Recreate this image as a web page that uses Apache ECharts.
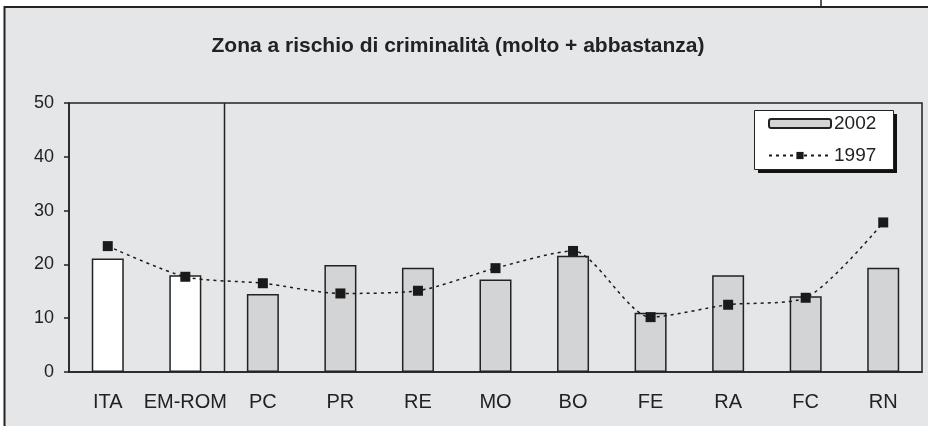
<!DOCTYPE html>
<html>
<head>
<meta charset="utf-8">
<script src="https://cdn.jsdelivr.net/npm/echarts@6/dist/echarts.min.js"></script>
<style>
  html, body { margin: 0; padding: 0; background: #fff; }
  #chart { width: 928px; height: 426px; }
</style>
</head>
<body>
<div id="chart"></div>
<script>
var categories = ['ITA', 'EM-ROM', 'PC', 'PR', 'RE', 'MO', 'BO', 'FE', 'RA', 'FC', 'RN'];
var values2002 = [21.1, 18.0, 14.5, 19.9, 19.4, 17.2, 21.6, 11.0, 18.0, 14.1, 19.4];
var values1997 = [23.4, 17.7, 16.5, 14.6, 15.1, 19.3, 22.5, 10.2, 12.5, 13.8, 27.8];
var yTicks = [0, 10, 20, 30, 40, 50];

var ink = '#222';
var bg = '#e5e6e8';
var font = 'Liberation Sans, Arial, sans-serif';

// first two bars (Italy, region) are drawn white
var barData = values2002.map(function (v, i) {
    return {
        value: v,
        itemStyle: { color: i < 2 ? '#ffffff' : '#d3d4d6' }
    };
});

var myChart = echarts.init(document.getElementById('chart'));

var option = {
    backgroundColor: '#ffffff',
    animation: false,
    textStyle: { fontFamily: font, color: ink },
    graphic: [{
        type: 'rect',
        z: -10,
        shape: { x: 4.5, y: 7, width: 940, height: 440 },
        style: { fill: bg, stroke: ink, lineWidth: 2 }
    }, {
        type: 'line',
        z: -10,
        shape: { x1: 821, y1: 0, x2: 821, y2: 7 },
        style: { stroke: ink, lineWidth: 1.5 }
    }, {
        // legend frame with hard shadow
        type: 'rect',
        z: 5,
        shape: { x: 758, y: 114, width: 139, height: 59 },
        style: { fill: '#111' }
    }, {
        type: 'rect',
        z: 6,
        shape: { x: 754.5, y: 110.5, width: 139, height: 59 },
        style: { fill: '#ffffff', stroke: ink, lineWidth: 1 }
    }],
    title: {
        text: 'Zona a rischio di criminalità (molto + abbastanza)',
        left: 453,
        top: 31,
        textAlign: 'center',
        textStyle: { fontFamily: font, fontSize: 21, fontWeight: 'bold', color: ink }
    },
    legend: {
        orient: 'vertical',
        left: 754,
        top: 110,
        z: 20,
        padding: [4, 12, 4, 14],
        itemGap: 13,
        itemWidth: 62,
        itemHeight: 9,
        textStyle: { fontFamily: font, fontSize: 19, color: ink, padding: [0, 0, 0, -2] },
        data: ['2002', '1997']
    },
    grid: {
        left: 69,
        right: 6,
        top: 103,
        bottom: 54,
        show: true,
        borderColor: ink,
        borderWidth: 1.5,
        backgroundColor: 'transparent'
    },
    xAxis: {
        type: 'category',
        data: categories,
        axisLine: { lineStyle: { color: ink, width: 1.5 } },
        axisTick: { show: false },
        axisLabel: { fontFamily: font, fontSize: 20, color: ink, margin: 20, interval: 0 },
        splitLine: { show: false }
    },
    yAxis: {
        type: 'value',
        min: yTicks[0],
        max: yTicks[yTicks.length - 1],
        interval: 10,
        axisLine: { show: true, lineStyle: { color: ink, width: 1.5 } },
        axisTick: { show: true, length: 5, lineStyle: { color: ink, width: 1.5 } },
        axisLabel: { fontFamily: font, fontSize: 18, color: ink, margin: 15 },
        splitLine: { show: false }
    },
    series: [{
        name: '2002',
        type: 'bar',
        data: barData,
        barWidth: 32,
        itemStyle: { color: '#d3d4d6', borderColor: ink, borderWidth: 1.5 },
        z: 2
    }, {
        name: '1997',
        type: 'line',
        data: values1997,
        smooth: 0.25,
        symbol: 'rect',
        symbolSize: 10,
        itemStyle: { color: '#1a1a1a' },
        lineStyle: { color: '#1a1a1a', width: 1.5, type: [3, 4] },
        z: 3
    }]
};

myChart.setOption(option);

// separator between the two reference columns (ITA, EM-ROM) and the provinces
var xa = myChart.convertToPixel({ xAxisIndex: 0 }, categories[1]);
var xb = myChart.convertToPixel({ xAxisIndex: 0 }, categories[2]);
var yTop = myChart.convertToPixel({ yAxisIndex: 0 }, yTicks[yTicks.length - 1]);
var yBot = myChart.convertToPixel({ yAxisIndex: 0 }, yTicks[0]);
var xs = Math.round((xa + xb) / 2) + 0.5;
option.graphic.push({
    type: 'line',
    z: 1,
    shape: { x1: xs, y1: yTop, x2: xs, y2: yBot },
    style: { stroke: ink, lineWidth: 1.5 }
});
myChart.setOption({ graphic: option.graphic });
</script>
</body>
</html>
